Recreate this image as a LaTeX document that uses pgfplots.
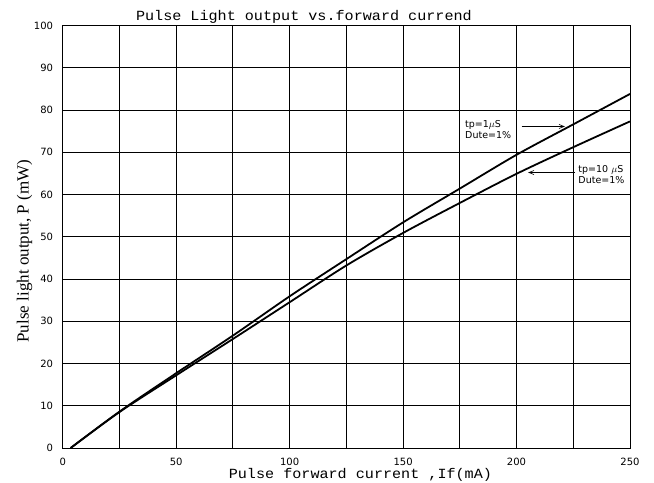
\documentclass[border=0pt]{standalone}
\usepackage{fontspec}
\setmainfont{Liberation Mono}
\newfontfamily\monofont[FakeStretch=1.08]{Liberation Mono}
\newfontfamily\seriffont{Liberation Serif}
\newfontfamily\tickfont{DejaVu Sans}
\usepackage{pgfplots}
\pgfplotsset{compat=1.18}
\usetikzlibrary{arrows.meta}
\begin{document}
\begin{tikzpicture}
\begin{axis}[
 at={(0,0)}, anchor=south west,
 scale only axis, width=567.3bp, height=422.5bp,
 xmin=0,xmax=250,ymin=0,ymax=100,
 xtick={0,25,...,250}, xticklabels={0,,50,,100,,150,,200,,250},
 ytick={0,10,...,100},
 grid=major, grid style={black, line width=0.8bp},
 axis line style={black, line width=0.8bp},
 major tick length=0pt,
 tick label style={font=\tickfont\fontsize{10bp}{12bp}\selectfont, inner sep=0pt},
 xticklabel style={anchor=north, yshift=-10bp},
 yticklabel style={anchor=east, xshift=-9.5bp},
 /pgf/number format/assume math mode=true,
 clip=false,
]
% tp = 1 us
\addplot[black, line width=1.8bp, smooth] coordinates {
(3.5,0) (25,8.6) (50,17.7) (75,26.6) (100,35.9) (125,44.7) (150,53.4) (175,61.4) (200,69.4) (225,76.6) (250,83.8)};
% tp = 10 us
\addplot[black, line width=1.8bp, smooth] coordinates {
(3.5,0) (25,8.5) (50,17.2) (75,25.8) (100,34.5) (125,43.2) (150,50.9) (175,58.0) (200,64.9) (225,71.2) (250,77.3)};

\node[anchor=base west, inner sep=0pt, font=\tickfont\fontsize{9.5bp}{11bp}\selectfont] at (axis cs:177.3,75.9) {tp=1$\mu$S};
\node[anchor=base west, inner sep=0pt, font=\tickfont\fontsize{9.5bp}{11bp}\selectfont] at (axis cs:177.3,73.2) {Dute=1\%};
\node[anchor=base west, inner sep=0pt, font=\tickfont\fontsize{9.5bp}{11bp}\selectfont] at (axis cs:227.2,65.3) {tp=10 $\mu$S};
\node[anchor=base west, inner sep=0pt, font=\tickfont\fontsize{9.5bp}{11bp}\selectfont] at (axis cs:227.2,62.7) {Dute=1\%};
\draw[line width=0.6bp, -{Straight Barb[length=5bp,width=4bp]}] (axis cs:202.2,76.1) -- (axis cs:221.3,76.1);
\draw[line width=0.6bp, -{Straight Barb[length=5bp,width=4bp]}] (axis cs:225.8,65.2) -- (axis cs:205.1,65.2);

\node[anchor=base, inner sep=0pt, font=\monofont\fontsize{14bp}{17bp}\selectfont] at (axis cs:106.3,101.2) {Pulse Light output vs.forward currend};
\node[anchor=base, inner sep=0pt, font=\monofont\fontsize{14bp}{17bp}\selectfont] at (axis cs:131.2,-7.2) {Pulse forward current ,If(mA)};
\node[rotate=90, anchor=base, inner sep=0pt, font=\seriffont\fontsize{17bp}{20bp}\selectfont] at (axis cs:-14.98,46.6) {Pulse light output, P (mW)};
\end{axis}
\pgfresetboundingbox
\useasboundingbox (-62.7bp,-35bp) rectangle (591.3bp,448bp);
\end{tikzpicture}
\end{document}
